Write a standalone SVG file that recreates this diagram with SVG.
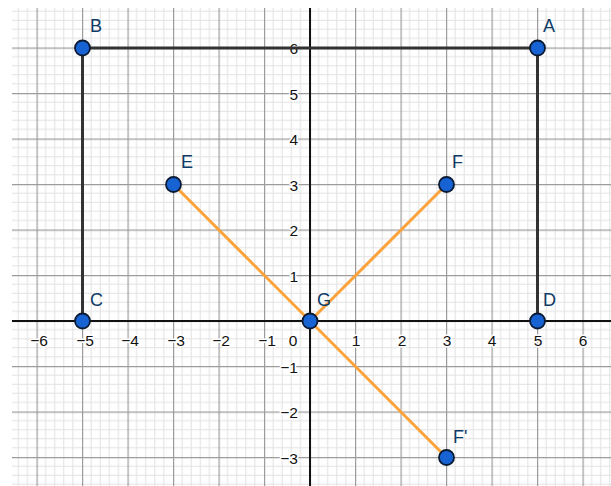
<svg xmlns="http://www.w3.org/2000/svg" width="611" height="486" viewBox="0 0 611 486">
<defs>
<pattern id="grid" patternUnits="userSpaceOnUse" x="309.5" y="320.5" width="45.5" height="45.5">
<path d="M9.1 0V45.5M18.2 0V45.5M27.3 0V45.5M36.4 0V45.5M0 9.1H45.5M0 18.2H45.5M0 27.3H45.5M0 36.4H45.5" stroke="#e2e2e2" stroke-width="1" fill="none"/>
<path d="M0.5 0V45.5M0 0.5H45.5" stroke="#9c9c9c" stroke-width="1.4" fill="none"/>
</pattern>
<style>
.tick{font-family:"Liberation Sans",Arial,sans-serif;font-size:15.5px;fill:#111;stroke:#fff;stroke-width:3px;paint-order:stroke;stroke-linejoin:round}
.lbl{font-family:"Liberation Sans",Arial,sans-serif;font-size:18px;fill:#0d3b66}
.pt{fill:#1763d3;stroke:#0a1a33;stroke-width:1.8}
.rect{stroke:#333;stroke-width:3;fill:none}
.seg{stroke:#fba33a;stroke-width:3;fill:none}
</style>
</defs>
<rect width="611" height="486" fill="#fff"/>
<rect x="12" y="8" width="599" height="478" fill="url(#grid)"/>
<g id="axes" stroke="#111" stroke-width="2">
<line x1="12" y1="321" x2="611" y2="321"/>
<line x1="310" y1="8" x2="310" y2="486"/>
</g>
<g id="ticks">
<text class="tick" x="39" y="346" text-anchor="middle">−6</text>
<text class="tick" x="85" y="346" text-anchor="middle">−5</text>
<text class="tick" x="130" y="346" text-anchor="middle">−4</text>
<text class="tick" x="176" y="346" text-anchor="middle">−3</text>
<text class="tick" x="221" y="346" text-anchor="middle">−2</text>
<text class="tick" x="267" y="346" text-anchor="middle">−1</text>
<text class="tick" x="293" y="346" text-anchor="middle">0</text>
<text class="tick" x="356" y="346" text-anchor="middle">1</text>
<text class="tick" x="402" y="346" text-anchor="middle">2</text>
<text class="tick" x="447" y="346" text-anchor="middle">3</text>
<text class="tick" x="492" y="346" text-anchor="middle">4</text>
<text class="tick" x="538" y="346" text-anchor="middle">5</text>
<text class="tick" x="583" y="346" text-anchor="middle">6</text>
<text class="tick" x="298" y="54" text-anchor="end">6</text>
<text class="tick" x="298" y="99.5" text-anchor="end">5</text>
<text class="tick" x="298" y="145" text-anchor="end">4</text>
<text class="tick" x="298" y="190.5" text-anchor="end">3</text>
<text class="tick" x="298" y="236" text-anchor="end">2</text>
<text class="tick" x="298" y="281.5" text-anchor="end">1</text>
<text class="tick" x="298" y="372.5" text-anchor="end">−1</text>
<text class="tick" x="298" y="418" text-anchor="end">−2</text>
<text class="tick" x="298" y="463.5" text-anchor="end">−3</text>
</g>
<g id="connectors">
<path class="rect" d="M82.5 48H537.5V321M82.5 48V321"/>
<line class="seg" x1="173.5" y1="184.5" x2="446.5" y2="457.5"/>
<line class="seg" x1="310" y1="321" x2="446.5" y2="184.5"/>
</g>
<g id="A"><circle class="pt" cx="537.5" cy="48" r="7.5"/><text class="lbl" x="543" y="32">A</text></g>
<g id="B"><circle class="pt" cx="82.5" cy="48" r="7.5"/><text class="lbl" x="90" y="32">B</text></g>
<g id="C"><circle class="pt" cx="82.5" cy="321" r="7.5"/><text class="lbl" x="90" y="306">C</text></g>
<g id="D"><circle class="pt" cx="537.5" cy="321" r="7.5"/><text class="lbl" x="543" y="306">D</text></g>
<g id="E"><circle class="pt" cx="173.5" cy="184.5" r="7.5"/><text class="lbl" x="181" y="168">E</text></g>
<g id="F"><circle class="pt" cx="446.5" cy="184.5" r="7.5"/><text class="lbl" x="452" y="168">F</text></g>
<g id="G"><circle class="pt" cx="310" cy="321" r="7.5"/><text class="lbl" x="317" y="306">G</text></g>
<g id="F-prime"><circle class="pt" cx="446.5" cy="457.5" r="7.5"/><text class="lbl" x="453" y="443">F'</text></g>
</svg>
